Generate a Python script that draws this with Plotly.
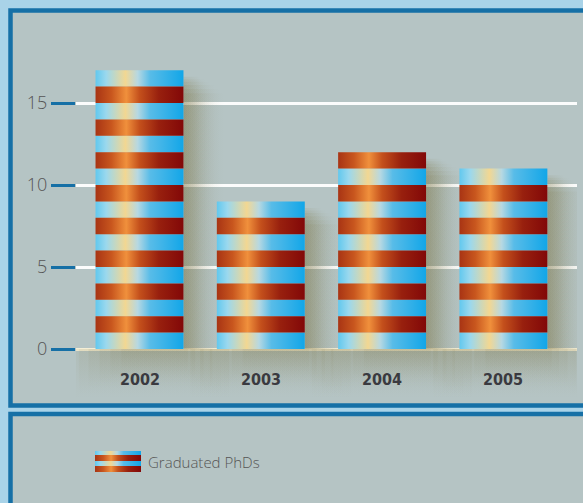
import plotly.graph_objects as go

# ---- data ----
years = ["2002", "2003", "2004", "2005"]
phds = [17, 9, 12, 11]
y_ticks = [0, 5, 10, 15]
legend_label = "Graduated PhDs"

# ---- styling ----
W, H = 583, 503
BAR_W = 0.725
BORDER = "#1670a6"
PANEL = "#b5c4c4"
OUTER = "#a9d3e8"
SHADOW = "120,112,62"

BLUE_SCALE = [[0.0, "#62c8ee"], [0.12, "#9ad8ee"], [0.34, "#f2d792"],
              [0.48, "#b6d8e2"], [0.62, "#58bce8"], [1.0, "#12a6e8"]]
RED_SCALE = [[0.0, "#a83414"], [0.18, "#c8561e"], [0.35, "#f0903c"],
             [0.5, "#c4501c"], [0.72, "#98200e"], [1.0, "#820808"]]


def px_x(p):
    return p / W


def px_y(p):
    return 1 - p / H


def rect_path(x0, x1, y0, y1):
    return [x0, x1, x1, x0, x0, None], [y0, y0, y1, y1, y0, None]


fig = go.Figure()

# soft shadows cast by the bars, built from a few faint overlapping layers
for i, v in enumerate(phds):
    right = i + BAR_W / 2
    for reach, drop in [(0.34, 1.4), (0.3, 1.15), (0.26, 0.9), (0.22, 0.7),
                        (0.18, 0.55), (0.14, 0.4)]:
        xs, ys = rect_path(right, right + reach, 0, v - drop)
        fig.add_trace(go.Scatter(
            x=xs, y=ys, fill="toself", mode="none", hoverinfo="skip", showlegend=False,
            fillgradient=dict(type="horizontal", start=right, stop=right + reach,
                              colorscale=[[0, f"rgba({SHADOW},0.11)"],
                                          [1, f"rgba({SHADOW},0)"]])))
    for lo, hi, depth in [(-0.58, 0.74, 3.0), (-0.5, 0.67, 2.75), (-0.42, 0.6, 2.45),
                          (-0.33, 0.53, 2.15), (-0.24, 0.46, 1.8), (-0.15, 0.4, 1.45)]:
        xs, ys = rect_path(i + lo, i + hi, -depth, 0)
        fig.add_trace(go.Scatter(
            x=xs, y=ys, fill="toself", mode="none", hoverinfo="skip", showlegend=False,
            fillgradient=dict(type="vertical", start=-depth, stop=0,
                              colorscale=[[0, f"rgba({SHADOW},0)"],
                                          [1, f"rgba({SHADOW},0.08)"]])))

# striped bars: one unit per band, alternating blue / red
for i, v in enumerate(phds):
    x0, x1 = i - BAR_W / 2, i + BAR_W / 2
    for parity, scale in ((0, BLUE_SCALE), (1, RED_SCALE)):
        xs, ys = [], []
        for k in range(v):
            if k % 2 == parity:
                px_, py_ = rect_path(x0, x1, k, k + 1)
                xs += px_
                ys += py_
        if not xs:
            continue
        fig.add_trace(go.Scatter(
            x=xs, y=ys, fill="toself", mode="none", showlegend=False,
            name=legend_label, hoverinfo="skip",
            fillgradient=dict(type="horizontal", start=x0, stop=x1, colorscale=scale)))

# year labels under the bars
for i, yr in enumerate(years):
    fig.add_annotation(x=i, y=-1.85, text=yr, showarrow=False, xref="x", yref="y",
                       font=dict(family="DejaVu Sans Condensed", size=16, color="#3a3a40",
                                 weight="bold"))

# legend swatch in the lower panel (pixel-space overlay axes)
sw_x0, sw_x1 = 95, 141
stripes = [(451, 455, BLUE_SCALE), (455, 461, RED_SCALE),
           (461, 466, BLUE_SCALE), (466, 472, RED_SCALE)]
for top, bottom, scale in stripes:
    xs, ys = rect_path(sw_x0, sw_x1, top, bottom)
    fig.add_trace(go.Scatter(
        x=xs, y=ys, xaxis="x2", yaxis="y2", fill="toself", mode="none",
        hoverinfo="skip", showlegend=False,
        fillgradient=dict(type="horizontal", start=sw_x0, stop=sw_x1, colorscale=scale)))

fig.add_annotation(x=px_x(146), y=px_y(462), xref="paper", yref="paper",
                   xanchor="left", yanchor="middle", showarrow=False, text=legend_label,
                   font=dict(family="Open Sans", size=15, color="#555555", weight=300))

# panels
fig.add_shape(type="rect", xref="paper", yref="paper", layer="below",
              x0=px_x(10.5), x1=px_x(640), y0=px_y(10.5), y1=px_y(405.5),
              line=dict(color=BORDER, width=4.5), fillcolor=PANEL)
fig.add_shape(type="rect", xref="paper", yref="paper", layer="below",
              x0=px_x(10.5), x1=px_x(640), y0=px_y(414), y1=px_y(560),
              line=dict(color=BORDER, width=4.5), fillcolor=PANEL)

fig.update_layout(
    width=W, height=H, margin=dict(l=0, r=0, t=0, b=0),
    paper_bgcolor=OUTER, plot_bgcolor="rgba(0,0,0,0)",
    showlegend=False,
    xaxis=dict(domain=[px_x(76), px_x(577)],
               range=[(76 - 139.5) / 121.3, (577 - 139.5) / 121.3],
               showgrid=False, zeroline=False, showticklabels=False, ticks="",
               fixedrange=True),
    yaxis=dict(domain=[px_y(401.5), px_y(21)], range=[-3.2, 20],
               tickvals=y_ticks, showgrid=True, gridcolor="rgba(255,255,255,0.95)",
               gridwidth=2.5, zeroline=True, zerolinecolor="#f4eed6", zerolinewidth=2.5,
               ticks="outside", ticklen=24, tickwidth=3, tickcolor=BORDER,
               tickfont=dict(family="Open Sans", size=18, color="#555555", weight=300),
               showline=False, fixedrange=True),
    xaxis2=dict(domain=[0, 1], range=[0, W], visible=False, anchor="y2", fixedrange=True),
    yaxis2=dict(domain=[0, 1], range=[H, 0], visible=False, anchor="x2", fixedrange=True),
)

fig.write_html("out.html")
